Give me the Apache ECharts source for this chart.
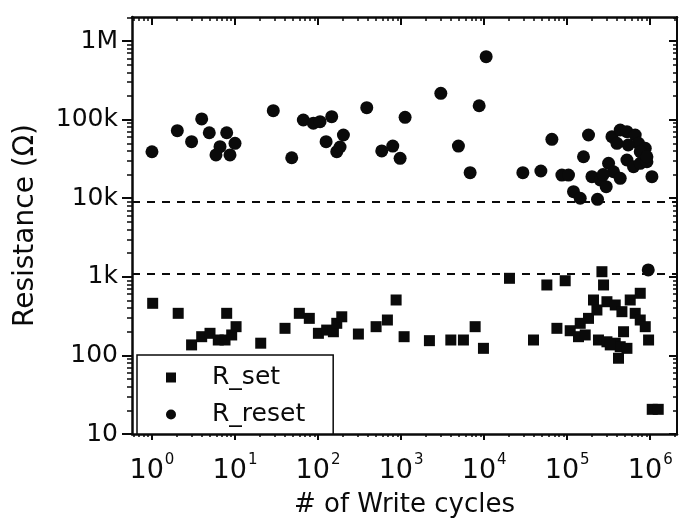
<!DOCTYPE html>
<html>
<head>
<meta charset="utf-8">
<script src="https://cdn.jsdelivr.net/npm/echarts@6/dist/echarts.min.js"></script>
<style>
html,body{margin:0;padding:0;background:#fff;}
#c{width:681px;height:531px;}
</style>
</head>
<body>
<div id="c"></div>
<script>
// ---- data ----
const resetX = [1, 2.02, 3.0, 3.97, 4.9, 7.94, 6.6, 5.9, 8.7, 10,
  28.9, 48.2, 66.5, 87.8, 105.7, 146, 125, 202, 168, 184,
  386, 1117, 585, 794, 973, 10570, 3008, 8710, 4900, 6780,
  29240, 48200, 65400, 86300, 103700, 119100, 143500, 231800, 157100, 180600,
  198600, 250000, 295000, 315000, 361000, 435000, 524000, 629000, 758000, 912000,
  1048000, 346000, 397000, 435000, 524000, 659000, 723000, 871000, 758000, 912000,
  946000, 271000, 543000];
const resetY = [39000, 72300, 52400, 102000, 68000, 68000, 45200, 35500, 35500, 49900,
  130000, 32700, 98900, 89800, 94000, 109000, 52400, 63700, 39100, 44800,
  142000, 107000, 39900, 46100, 32200, 631000, 216000, 150000, 46100, 21100,
  21100, 22200, 56100, 19700, 19700, 12100, 9980, 9680, 33700, 63700,
  18800, 17100, 14000, 27800, 21700, 17900, 30600, 25200, 27800, 29100,
  18800, 60700, 49900, 73800, 70200, 63700, 49900, 43200, 39100, 33700,
  1222, 20000, 47500];
const setX = [1.02, 2.07, 3.0, 3.97, 5.0, 6.29, 7.58, 7.94, 9.12, 10.3,
  20.4, 40, 59.5, 78.5, 101, 127, 153, 168, 193, 306,
  500, 684, 871, 1087, 2193, 3970, 5630, 7790, 9810, 20180,
  39300, 56900, 94600, 75200, 108700, 136800, 164800, 143500, 180600, 207500,
  228000, 262000, 274000, 301000, 379000, 456000, 574000, 758000, 659000, 758000,
  871000, 955000, 238000, 301000, 379000, 477000, 435000, 524000, 415000, 330000,
  1057000, 1248000];
const setY = [460, 343, 136, 173, 191, 157, 157, 343, 182, 232,
  143, 221, 343, 296, 191, 210, 200, 256, 310, 187,
  232, 282, 507, 173, 154, 157, 157, 232, 123, 957,
  157, 787, 891, 221, 206, 173, 182, 256, 296, 507,
  378, 1161, 787, 482, 438, 360, 507, 617, 343, 282,
  232, 157, 157, 149, 143, 200, 129, 123, 92, 136,
  20.6, 20.6];
const thresholds = [9000, 1100];           // dashed reference lines
const xMajor = [1, 10, 100, 1e3, 1e4, 1e5, 1e6];
const yMajor = [10, 100, 1e3, 1e4, 1e5, 1e6];
const yLabels = ['10', '100', '1k', '10k', '100k', '1M'];
const xRange = [0.575, 2.1e6];
const yRange = [10, 2.02e6];

// minor (log) tick positions 2..9 per decade
const xMinor = [], yMinor = [];
for (let e = -1; e <= 6; e++) for (let k = 2; k <= 9; k++) xMinor.push(k * Math.pow(10, e));
for (let e = 1; e <= 6; e++) for (let k = 2; k <= 9; k++) yMinor.push(k * Math.pow(10, e));

const FONT = 'DejaVu Sans';
const INK = '#0a0a0a';

function axisBase(extra) {
  return Object.assign({
    type: 'log', logBase: 10,
    axisLine: { show: true, lineStyle: { color: INK, width: 2.5 } },
    splitLine: { show: false },
    minorTick: { show: false },
    axisLabel: { show: false }
  }, extra);
}

const chart = echarts.init(document.getElementById('c'), null, { renderer: 'canvas' });
const grid = { left: 132, right: 4, top: 17, bottom: 97, containLabel: false };

chart.setOption({
  animation: false,
  backgroundColor: '#fff',
  grid: [Object.assign({}, grid), Object.assign({}, grid)],
  legend: {
    left: 137, top: 355,
    orient: 'vertical',
    backgroundColor: '#fff',
    borderColor: INK, borderWidth: 1.5, borderRadius: 0,
    padding: [10, 28, 7, 29],
    itemGap: 12,
    itemWidth: 48, itemHeight: 10,
    symbolKeepAspect: true,
    selectedMode: false,
    textStyle: { fontFamily: FONT, fontSize: 25, color: INK, padding: [0, 0, 0, 12] },
    data: [
      { name: 'R_set', icon: 'path://M0,0H10V10H0Z', itemStyle: { color: INK, opacity: 1 } },
      { name: 'R_reset', icon: 'path://M5,0A5,5,0,1,1,5,10A5,5,0,1,1,5,0Z', itemStyle: { color: INK, opacity: 1 } }
    ]
  },
  xAxis: [
    axisBase({
      gridIndex: 0, position: 'bottom', min: xRange[0], max: xRange[1],
      name: '# of Write cycles', nameLocation: 'middle', nameGap: 58,
      nameTextStyle: { fontFamily: FONT, fontSize: 26, color: INK },
      axisTick: { show: true, inside: false, length: 6, customValues: xMajor, lineStyle: { color: INK, width: 2 } },
      axisLabel: {
        show: true, customValues: xMajor, margin: 19,
        formatter: v => '{b|10}{s|' + Math.round(Math.log10(v)) + '}',
        rich: {
          b: { fontFamily: FONT, fontSize: 27, color: INK, verticalAlign: 'bottom' },
          s: { fontFamily: FONT, fontSize: 15, color: INK, verticalAlign: 'bottom', padding: [0, 0, 16, 1] }
        }
      }
    }),
    axisBase({
      gridIndex: 0, position: 'top', min: xRange[0], max: xRange[1],
      axisTick: { show: true, inside: true, length: 8, customValues: xMajor, lineStyle: { color: INK, width: 2 } }
    }),
    axisBase({
      gridIndex: 1, position: 'bottom', min: xRange[0], max: xRange[1],
      axisLine: { show: false },
      axisTick: { show: true, inside: false, length: 3, customValues: xMinor, lineStyle: { color: INK, width: 1.5 } }
    }),
    axisBase({
      gridIndex: 1, position: 'top', min: xRange[0], max: xRange[1],
      axisLine: { show: false },
      axisTick: { show: true, inside: true, length: 4, customValues: xMinor, lineStyle: { color: INK, width: 1.5 } }
    })
  ],
  yAxis: [
    axisBase({
      gridIndex: 0, position: 'left', min: yRange[0], max: yRange[1],
      name: 'Resistance (\u03A9)', nameLocation: 'middle', nameGap: 92, nameRotate: 90,
      nameTextStyle: { fontFamily: FONT, fontSize: 28, color: INK },
      axisTick: { show: true, inside: false, length: 10, customValues: yMajor, lineStyle: { color: INK, width: 2 } },
      axisLabel: {
        show: true, customValues: yMajor, margin: 14,
        fontFamily: FONT, fontSize: 25, color: INK,
        formatter: v => yLabels[yMajor.findIndex(m => Math.abs(m - v) / m < 1e-6)]
      }
    }),
    axisBase({
      gridIndex: 0, position: 'right', min: yRange[0], max: yRange[1],
      axisLine: { show: true, lineStyle: { color: INK, width: 2 } },
      axisTick: { show: true, inside: true, length: 8, customValues: yMajor, lineStyle: { color: INK, width: 2 } }
    }),
    axisBase({
      gridIndex: 1, position: 'left', min: yRange[0], max: yRange[1],
      axisLine: { show: false },
      axisTick: { show: true, inside: false, length: 5, customValues: yMinor, lineStyle: { color: INK, width: 1.5 } }
    }),
    axisBase({
      gridIndex: 1, position: 'right', min: yRange[0], max: yRange[1],
      axisLine: { show: false },
      axisTick: { show: true, inside: true, length: 4, customValues: yMinor, lineStyle: { color: INK, width: 1.5 } }
    })
  ],
  series: [
    {
      name: 'R_set', type: 'scatter', xAxisIndex: 0, yAxisIndex: 0,
      symbol: 'rect', symbolSize: 11,
      itemStyle: { color: INK, opacity: 1 },
      data: setX.map((x, i) => [x, setY[i]]),
      markLine: {
        silent: true, symbol: ['none', 'none'],
        label: { show: false },
        lineStyle: { color: INK, type: [8, 7], width: 2, opacity: 1 },
        data: thresholds.map(t => ({ yAxis: t }))
      },
      z: 3
    },
    {
      name: 'R_reset', type: 'scatter', xAxisIndex: 0, yAxisIndex: 0,
      symbol: 'circle', symbolSize: 13,
      itemStyle: { color: INK, opacity: 1 },
      data: resetX.map((x, i) => [x, resetY[i]]),
      z: 3
    }
  ]
});
</script>
</body>
</html>
